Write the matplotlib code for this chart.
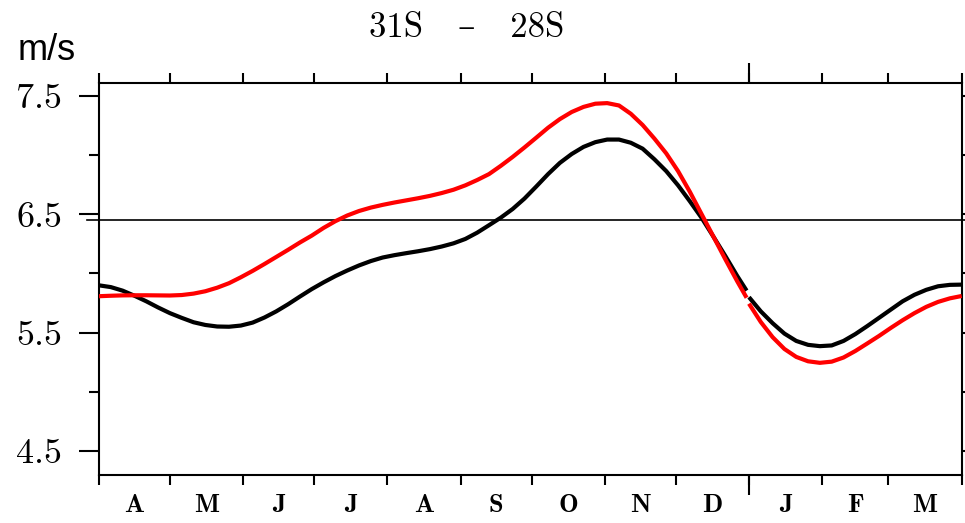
import matplotlib
matplotlib.use("Agg")
import matplotlib.pyplot as plt

# ---- data (day of year starting 1 April) ----
month_labels = ["A", "M", "J", "J", "A", "S", "O", "N", "D", "J", "F", "M"]
month_edges = [0, 30, 61, 91, 122, 153, 183, 214, 244, 275, 306, 334, 365]
year_boundary = 275
ref_value = 6.455

# first segment: April - December
days_a = [0, 5, 10, 15, 20, 25, 30, 35, 40, 45, 50, 55, 60, 65, 70, 75, 80, 85,
          90, 95, 100, 105, 110, 115, 120, 125, 130, 135, 140, 145, 150, 155,
          160, 165, 170, 175, 180, 185, 190, 195, 200, 205, 210, 215, 220, 225,
          230, 235, 240, 245, 250, 255, 260, 265, 270, 274]
black_a = [5.900, 5.885, 5.855, 5.812, 5.765, 5.713, 5.665, 5.625, 5.588, 5.565,
           5.552, 5.550, 5.560, 5.585, 5.628, 5.680, 5.740, 5.805, 5.868, 5.925,
           5.978, 6.025, 6.068, 6.105, 6.135, 6.155, 6.172, 6.188, 6.206, 6.228,
           6.255, 6.292, 6.345, 6.408, 6.472, 6.545, 6.633, 6.735, 6.840, 6.935,
           7.010, 7.070, 7.110, 7.132, 7.132, 7.105, 7.055, 6.965, 6.865, 6.745,
           6.610, 6.469, 6.310, 6.148, 5.980, 5.855]
red_a = [5.808, 5.812, 5.815, 5.816, 5.816, 5.815, 5.814, 5.818, 5.830, 5.850,
         5.880, 5.918, 5.968, 6.022, 6.080, 6.140, 6.200, 6.262, 6.320, 6.385,
         6.442, 6.490, 6.528, 6.557, 6.580, 6.600, 6.618, 6.636, 6.656, 6.680,
         6.708, 6.745, 6.790, 6.840, 6.910, 6.985, 7.065, 7.148, 7.232, 7.305,
         7.365, 7.408, 7.435, 7.440, 7.420, 7.350, 7.255, 7.140, 7.015, 6.865,
         6.690, 6.500, 6.310, 6.120, 5.935, 5.795]

# second segment: January - March
days_b = [275, 280, 285, 290, 295, 300, 305, 310, 315, 320, 325, 330, 335, 340,
          345, 350, 355, 360, 365]
black_b = [5.800, 5.680, 5.580, 5.492, 5.430, 5.397, 5.386, 5.392, 5.430, 5.488,
           5.555, 5.625, 5.695, 5.765, 5.820, 5.862, 5.892, 5.904, 5.906]
red_b = [5.745, 5.590, 5.462, 5.362, 5.295, 5.258, 5.245, 5.255, 5.290, 5.345,
         5.408, 5.472, 5.540, 5.605, 5.665, 5.718, 5.760, 5.790, 5.810]

major_y = [4.5, 5.5, 6.5, 7.5]
minor_y = [5.0, 6.0, 7.0]
title = "31S   \u2013   28S"
units = "m/s"

# ---- figure ----
W, H = 965, 523
fig = plt.figure(figsize=(W / 100, H / 100), dpi=100)
ax = fig.add_axes([99 / W, 48 / H, 862.7 / W, 392 / H])

lw = 3.0
for d, v, c, z in [(days_a, black_a, "black", 3), (days_b, black_b, "black", 3),
                   (days_a, red_a, "red", 4), (days_b, red_b, "red", 4)]:
    ax.plot(d, v, color=c, lw=lw, solid_capstyle="butt", solid_joinstyle="round",
            zorder=z)

ax.plot([-5, 370], [ref_value, ref_value], color="black", lw=1.2, clip_on=False,
        zorder=2)

ax.set_xlim(month_edges[0], month_edges[-1])
ax.set_ylim(4.297, 7.61)

for s in ax.spines.values():
    s.set_linewidth(1.5)

# x ticks
ax.set_xticks(month_edges)
ax.set_xticklabels([])
centers = [(month_edges[i] + month_edges[i + 1]) / 2 for i in range(12)]
ax.set_xticks(centers, minor=True)
ax.set_xticklabels(month_labels, minor=True, fontfamily="cmb10", fontsize=19)
ax.tick_params(axis="x", which="major", direction="out", length=7.2, width=1.5,
               top=True, bottom=True)
ax.tick_params(axis="x", which="minor", length=0, pad=14, top=False, bottom=True)

# year boundary longer ticks
trans = ax.get_xaxis_transform()
ax.plot([year_boundary, year_boundary], [0, -0.051], transform=trans, color="black",
        lw=1.5, clip_on=False, solid_capstyle="butt")
ax.plot([year_boundary, year_boundary], [1, 1.051], transform=trans, color="black",
        lw=1.5, clip_on=False, solid_capstyle="butt")

# y ticks
ax.set_yticks(major_y)
ax.set_yticklabels([f"{v:.1f}" for v in major_y], fontfamily="cmr10", fontsize=26)
ax.set_yticks(minor_y, minor=True)
ax.tick_params(axis="y", which="major", direction="out", length=14.4, width=1.5,
               left=True, right=True, pad=12)
ax.tick_params(axis="y", which="minor", direction="out", length=7.2, width=1.5,
               left=True, right=True)

fig.text(18 / W, 1 - 60 / H, units, fontfamily="Liberation Sans", fontsize=26,
         va="baseline", ha="left")
fig.text(466.5 / W, 1 - 37 / H, title, fontfamily=["cmr10", "DejaVu Serif"],
         fontsize=25, va="baseline", ha="center")

fig.savefig("out.png", dpi=100)
